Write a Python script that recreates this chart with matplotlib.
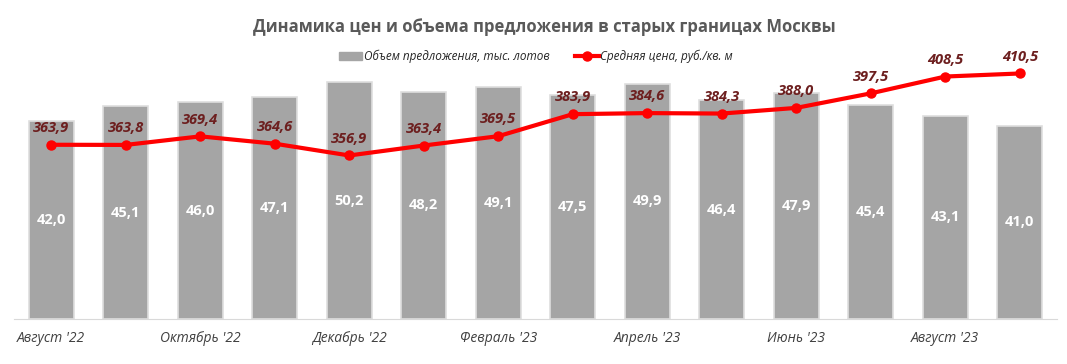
import matplotlib.pyplot as plt
import numpy as np
from matplotlib.lines import Line2D
from matplotlib.patches import Patch

plt.rcParams['font.family'] = ['Open Sans', 'DejaVu Sans']

months = ["Август '22", "Сентябрь '22", "Октябрь '22", "Ноябрь '22", "Декабрь '22",
          "Январь '23", "Февраль '23", "Март '23", "Апрель '23", "Май '23",
          "Июнь '23", "Июль '23", "Август '23", "Сентябрь '23"]
volume = [42.0, 45.1, 46.0, 47.1, 50.2, 48.2, 49.1, 47.5, 49.9, 46.4, 47.9, 45.4, 43.1, 41.0]
price = [363.9, 363.8, 369.4, 364.6, 356.9, 363.4, 369.5, 383.9, 384.6, 384.3, 388.0, 397.5, 408.5, 410.5]

def fmt(v):
    return f"{v:.1f}".replace('.', ',')

x = np.arange(len(months))

fig = plt.figure(figsize=(10.67, 3.64), dpi=100)
ax = fig.add_axes([14 / 1067, 1 - 319 / 364, (1057 - 14) / 1067, (319 - 36) / 364])

ax.bar(x, volume, width=0.6, color='#a5a5a5', edgecolor='#dedede', linewidth=1.2, zorder=2)
for xi, v in zip(x, volume):
    ax.text(xi, v / 2, fmt(v), ha='center', va='center', color='white',
            fontsize=10.5, fontweight='bold')

ax.set_xlim(-0.5, len(months) - 0.5)
ax.set_ylim(0, 60)
ax.set_yticks([])
for s in ['top', 'right', 'left']:
    ax.spines[s].set_visible(False)
ax.spines['bottom'].set_color('#d9d9d9')
ax.set_xticks(x[::2])
ax.set_xticklabels(months[::2], fontsize=10, style='italic', color='#404040')
ax.tick_params(axis='x', length=0, pad=9)

ax2 = ax.twinx()
ax2.plot(x, price, color='#ff0000', linewidth=3, marker='o', markersize=6.5, zorder=3)
ax2.set_ylim(250, 435)
ax2.set_yticks([])
for s in ax2.spines.values():
    s.set_visible(False)
for xi, p in zip(x, price):
    ax2.annotate(fmt(p), (xi, p), xytext=(0, 7), textcoords='offset points',
                 ha='center', va='bottom', color='#6d1f1f', fontsize=10.5,
                 fontweight='bold', style='italic')

fig.text(0.51, 0.925, 'Динамика цен и объема предложения в старых границах Москвы',
         ha='center', va='center', fontsize=12, fontweight='bold', color='#595959')

handles = [Patch(color='#a5a5a5'),
           Line2D([0], [0], color='#ff0000', linewidth=3, marker='o', markersize=6.5)]
labels = ['Объем предложения, тыс. лотов', 'Средняя цена, руб./кв. м']
fig.legend(handles, labels, loc='center', bbox_to_anchor=(0.502, 0.845), ncol=2,
           frameon=False, columnspacing=2.2, handlelength=2.0, handletextpad=0.1,
           prop={'size': 8.5, 'style': 'italic'}, labelcolor='#262626')

fig.savefig('out.png', dpi=100)
